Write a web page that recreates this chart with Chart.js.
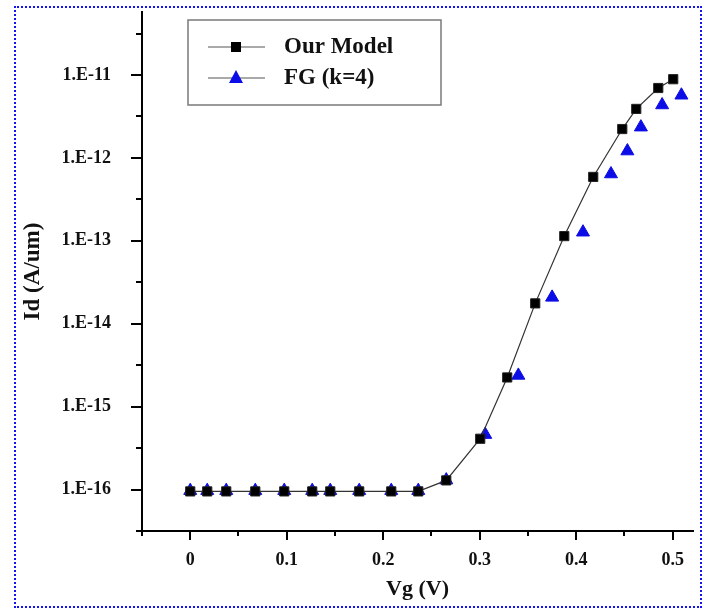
<!DOCTYPE html>
<html>
<head>
<meta charset="utf-8">
<script src="https://cdn.jsdelivr.net/npm/chart.js@4.4.1/dist/chart.umd.min.js"></script>
<style>
  html, body { margin: 0; padding: 0; background: #fff; }
  #wrap { position: relative; width: 710px; height: 610px; }
  #frame {
    position: absolute; left: 14px; top: 6px; width: 684px; height: 598px;
    border: 2px dotted #1414f0; pointer-events: none;
  }
</style>
</head>
<body>
<div id="wrap">
  <canvas id="chart" width="710" height="610"></canvas>
  <div id="frame"></div>
</div>
<script>
// Vg (V) / Id (A/um)
const modelVg = [0, 0.0176, 0.0373, 0.0674, 0.0974, 0.1264, 0.1451, 0.1751, 0.2083, 0.2363,
                 0.2653, 0.3005, 0.3285, 0.3575, 0.3876, 0.4176, 0.4477, 0.4622, 0.4850, 0.5005];
const modelId = [9.5e-17, 9.5e-17, 9.5e-17, 9.5e-17, 9.5e-17, 9.5e-17, 9.5e-17, 9.5e-17, 9.5e-17, 9.5e-17,
                 1.29e-16, 4.1e-16, 2.25e-15, 1.76e-14, 1.14e-13, 5.9e-13, 2.23e-12, 3.9e-12, 6.97e-12, 8.9e-12];

const fgVg = [0, 0.0176, 0.0373, 0.0674, 0.0974, 0.1264, 0.1451, 0.1751, 0.2083, 0.2363,
              0.2653, 0.3057, 0.340, 0.375, 0.407, 0.436, 0.453, 0.467, 0.489, 0.509];
const fgId = [9.7e-17, 9.7e-17, 9.7e-17, 9.7e-17, 9.7e-17, 9.7e-17, 9.7e-17, 9.7e-17, 9.7e-17, 9.7e-17,
              1.3e-16, 4.6e-16, 2.38e-15, 2.08e-14, 1.27e-13, 6.4e-13, 1.21e-12, 2.35e-12, 4.35e-12, 5.7e-12];

const xTicks = [0, 0.1, 0.2, 0.3, 0.4, 0.5];
const xTickLabels = ["0", "0.1", "0.2", "0.3", "0.4", "0.5"];
const yTicks = [1e-16, 1e-15, 1e-14, 1e-13, 1e-12, 1e-11];
const yTickLabels = ["1.E-16", "1.E-15", "1.E-14", "1.E-13", "1.E-12", "1.E-11"];

const seriesNames = ["Our Model", "FG (k=4)"];

const serif = "'Liberation Serif', 'Times New Roman', serif";
const blue = "#0c0ce6";

function pts(xs, ys) {
    return xs.map((x, i) => ({ x: x, y: ys[i] }));
}

/* major + minor ticks, minors half way between majors */
function xTickList() {
    const list = [];
    list.push({ value: xTicks[0] - 0.05, label: "" });
    xTicks.forEach((v, i) => {
        list.push({ value: v, label: xTickLabels[i] });
        if (i < xTicks.length - 1) list.push({ value: v + 0.05, label: "" });
    });
    return list;
}

function yTickList() {
    const list = [];
    list.push({ value: yTicks[0] / Math.sqrt(10), label: "" });
    yTicks.forEach((v, i) => {
        list.push({ value: v, label: yTickLabels[i] });
        list.push({ value: v * Math.sqrt(10), label: "" });
    });
    return list;
}

/* tick marks drawn outward: long for labelled, short for minor */
const tickMarks = {
    id: "tickMarks",
    afterDraw(chart) {
        const ctx = chart.ctx;
        const xs = chart.scales.x, ys = chart.scales.y;
        const a = chart.chartArea;
        ctx.save();
        ctx.strokeStyle = "#000";
        ctx.lineWidth = 2;
        xs.ticks.forEach(t => {
            const px = Math.round(xs.getPixelForValue(t.value));
            const len = t.label ? 9 : 5;
            ctx.beginPath();
            ctx.moveTo(px, a.bottom);
            ctx.lineTo(px, a.bottom + len);
            ctx.stroke();
        });
        ys.ticks.forEach(t => {
            const py = Math.round(ys.getPixelForValue(t.value));
            const len = t.label ? 11 : 6;
            ctx.beginPath();
            ctx.moveTo(a.left, py);
            ctx.lineTo(a.left - len, py);
            ctx.stroke();
        });
        ctx.restore();
    }
};

/* boxed legend in upper left of the plot */
const boxLegend = {
    id: "boxLegend",
    afterDraw(chart) {
        const ctx = chart.ctx;
        const a = chart.chartArea;
        const bx = a.left + 46, by = a.top + 8, bw = 253, bh = 85;
        ctx.save();
        ctx.strokeStyle = "#7a7a7a";
        ctx.lineWidth = 1.5;
        ctx.fillStyle = "#fff";
        ctx.fillRect(bx, by, bw, bh);
        ctx.strokeRect(bx, by, bw, bh);

        const rows = [by + 27, by + 58];
        ctx.font = "bold 23px " + serif;
        ctx.textBaseline = "middle";
        ctx.textAlign = "left";
        rows.forEach((ry, i) => {
            ctx.strokeStyle = "#555";
            ctx.lineWidth = 1;
            ctx.beginPath();
            ctx.moveTo(bx + 20, ry);
            ctx.lineTo(bx + 77, ry);
            ctx.stroke();
            const cx = bx + 48;
            if (i === 0) {
                ctx.fillStyle = "#000";
                ctx.fillRect(cx - 5, ry - 5, 10, 10);
            } else {
                ctx.fillStyle = blue;
                ctx.beginPath();
                ctx.moveTo(cx, ry - 8);
                ctx.lineTo(cx + 7, ry + 5);
                ctx.lineTo(cx - 7, ry + 5);
                ctx.closePath();
                ctx.fill();
            }
            ctx.fillStyle = "#111";
            ctx.fillText(seriesNames[i], bx + 96, ry);
        });
        ctx.restore();
    }
};

new Chart(document.getElementById("chart"), {
    type: "scatter",
    data: {
        datasets: [
            {
                label: seriesNames[0],
                data: pts(modelVg, modelId),
                showLine: true,
                borderColor: "#333",
                borderWidth: 1.2,
                pointStyle: "rect",
                pointRadius: 6.5,
                pointBackgroundColor: "#000",
                pointBorderColor: "#222",
                pointBorderWidth: 1
            },
            {
                label: seriesNames[1],
                data: pts(fgVg, fgId),
                showLine: false,
                pointStyle: "triangle",
                pointRadius: 7.5,
                pointBackgroundColor: blue,
                pointBorderColor: blue,
                pointBorderWidth: 1
            }
        ]
    },
    options: {
        responsive: false,
        animation: false,
        layout: { padding: { left: 0, top: 12, right: 17, bottom: 0 } },
        plugins: {
            legend: { display: false },
            tooltip: { enabled: false }
        },
        scales: {
            x: {
                type: "linear",
                min: -0.05,
                max: 0.521,
                afterBuildTicks: s => { s.ticks = xTickList(); },
                afterFit: s => { s.height = 79; s.paddingLeft = 0; s.paddingRight = 0; },
                grid: { display: false, drawTicks: false },
                border: { display: true, color: "#000", width: 2 },
                ticks: {
                    padding: 19,
                    color: "#111",
                    autoSkip: false,
                    maxRotation: 0,
                    font: { family: serif, size: 18, weight: "bold" },
                    callback: (v, i, t) => t[i].label
                },
                title: {
                    display: true,
                    text: "Vg (V)",
                    color: "#111",
                    padding: { top: 0, bottom: 7 },
                    font: { family: serif, size: 22, weight: "bold" }
                }
            },
            y: {
                type: "logarithmic",
                min: Math.pow(10, -16.5),
                max: Math.pow(10, -10.24),
                afterBuildTicks: s => { s.ticks = yTickList(); },
                afterFit: s => { s.width = 142; s.paddingTop = 0; s.paddingBottom = 0; },
                grid: { display: false, drawTicks: false },
                border: { display: true, color: "#000", width: 2 },
                ticks: {
                    padding: 31,
                    color: "#111",
                    autoSkip: false,
                    font: { family: serif, size: 18, weight: "bold" },
                    callback: (v, i, t) => t[i].label
                },
                title: {
                    display: true,
                    text: "Id (A/um)",
                    color: "#111",
                    padding: { top: 19, bottom: 0 },
                    font: { family: serif, size: 23, weight: "bold" }
                }
            }
        }
    },
    plugins: [tickMarks, boxLegend]
});
</script>
</body>
</html>
